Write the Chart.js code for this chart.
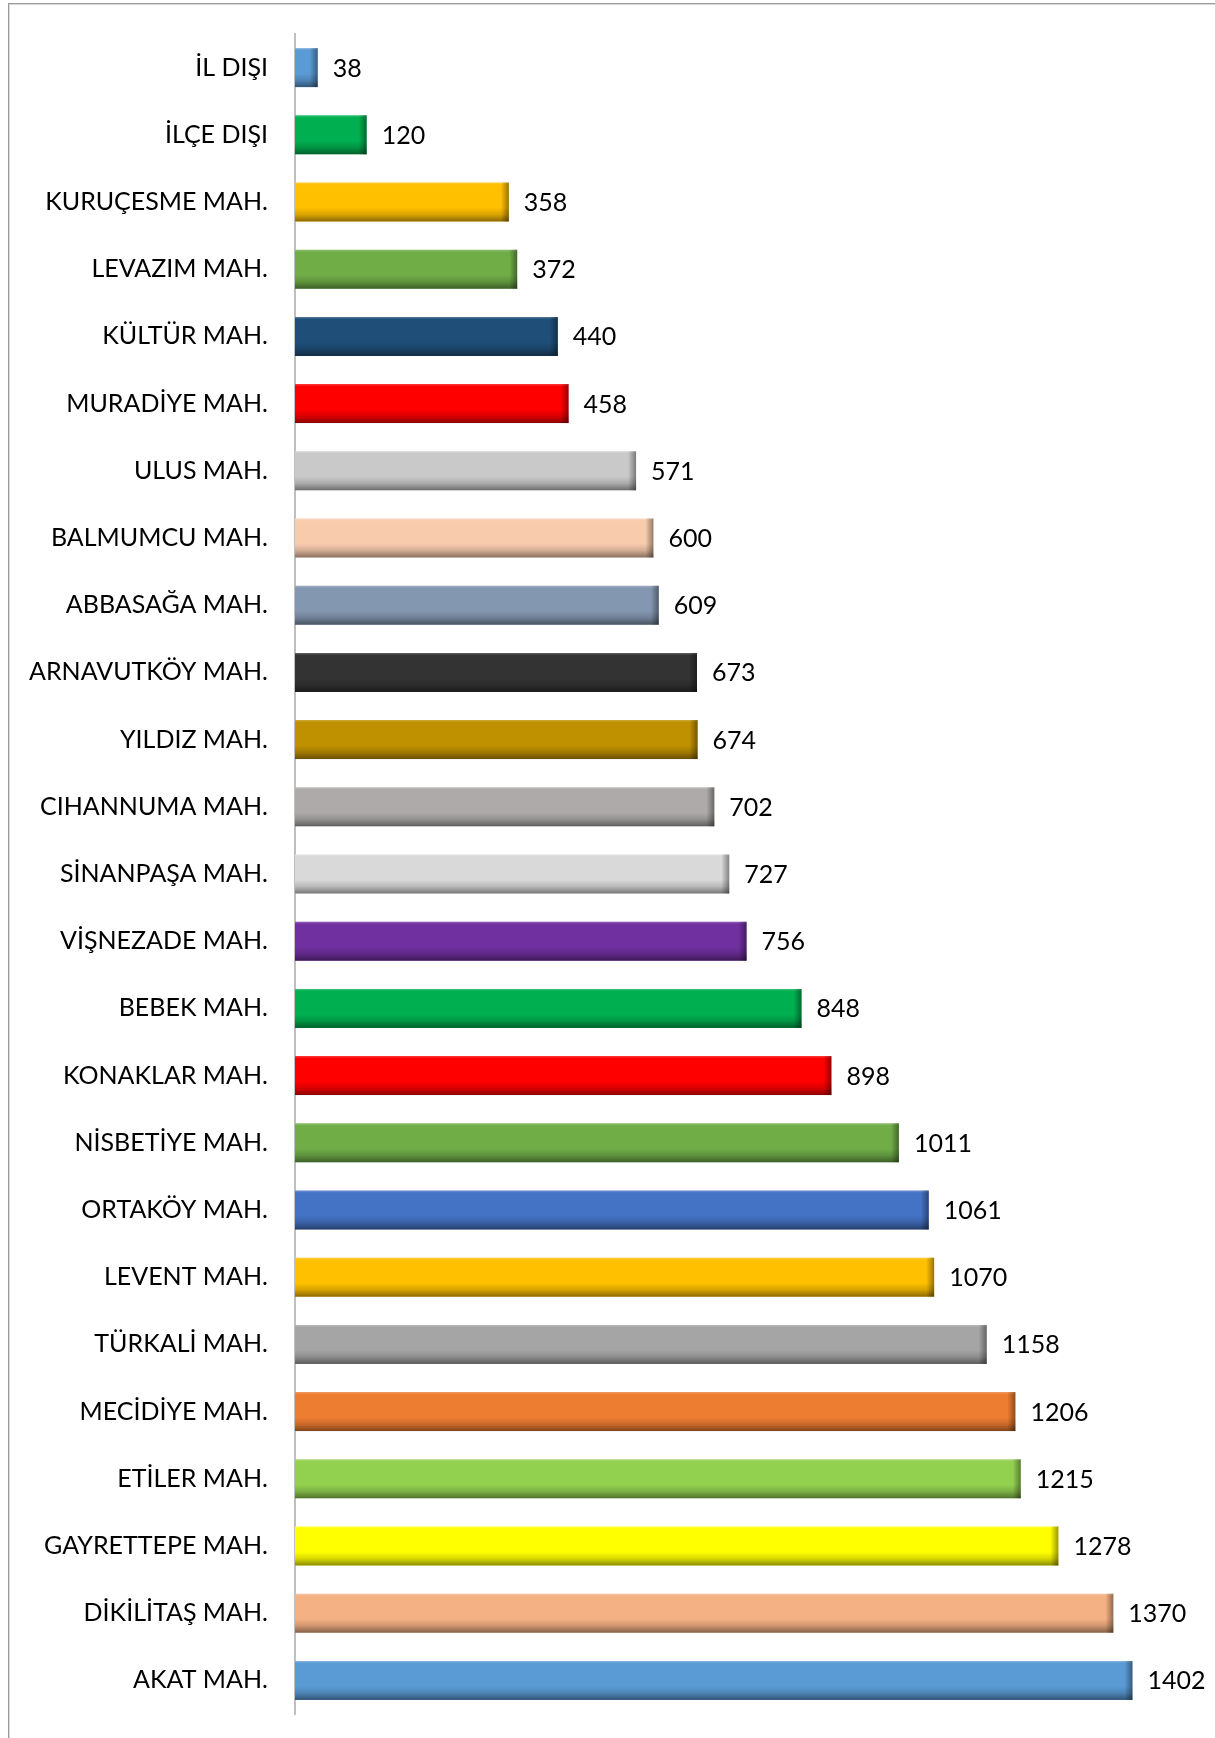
<!DOCTYPE html>
<html>
<head>
<meta charset="utf-8">
<script src="https://cdn.jsdelivr.net/npm/chart.js@4.4.1/dist/chart.umd.min.js"></script>
<style>
  html, body { margin: 0; padding: 0; background: #fff; overflow: hidden; }
  #frame {
    position: absolute; left: 8px; top: 3px; width: 1400px; height: 1900px;
    border-top: 1px solid #9a9a9a; border-left: 1px solid #9a9a9a;
    box-shadow: inset 1px 1px 0 #d9d9d9;
  }
  #wrap { position: absolute; left: 0; top: 0; width: 1215px; height: 1738px; }
</style>
</head>
<body>
<div id="frame"></div>
<div id="wrap"><canvas id="chart" width="1215" height="1738"></canvas></div>
<script>
// districts, top to bottom
const labels = [
  'İL DIŞI', 'İLÇE DIŞI', 'KURUÇESME MAH.', 'LEVAZIM MAH.', 'KÜLTÜR MAH.',
  'MURADİYE MAH.', 'ULUS MAH.', 'BALMUMCU MAH.', 'ABBASAĞA MAH.', 'ARNAVUTKÖY MAH.',
  'YILDIZ MAH.', 'CIHANNUMA MAH.', 'SİNANPAŞA MAH.', 'VİŞNEZADE MAH.', 'BEBEK MAH.',
  'KONAKLAR MAH.', 'NİSBETİYE MAH.', 'ORTAKÖY MAH.', 'LEVENT MAH.', 'TÜRKALİ MAH.',
  'MECİDİYE MAH.', 'ETİLER MAH.', 'GAYRETTEPE MAH.', 'DİKİLİTAŞ MAH.', 'AKAT MAH.'
];
const values = [
  38, 120, 358, 372, 440,
  458, 571, 600, 609, 673,
  674, 702, 727, 756, 848,
  898, 1011, 1061, 1070, 1158,
  1206, 1215, 1278, 1370, 1402
];
const barColors = [
  '#5B9BD5', '#00B050', '#FFC000', '#70AD47', '#1F4E79',
  '#FF0000', '#C9C9C9', '#F8CBAD', '#8497B0', '#333333',
  '#BF9000', '#AEAAAA', '#D9D9D9', '#7030A0', '#00B050',
  '#FF0000', '#70AD47', '#4472C4', '#FFC000', '#A5A5A5',
  '#ED7D31', '#92D050', '#FFFF00', '#F4B183', '#5B9BD5'
];

const FONT = { family: 'Lato, "Noto Sans", sans-serif', size: 25 };

// bevel shading over each bar, like the Excel 3D style
const bevel = {
  id: 'bevel',
  afterDatasetsDraw(chart) {
    const ctx = chart.ctx;
    chart.getDatasetMeta(0).data.forEach(bar => {
      const { x, y, base, height } = bar.getProps(['x', 'y', 'base', 'height'], true);
      const top = y - height / 2, bottom = y + height / 2;
      ctx.save();
      let g = ctx.createLinearGradient(0, top, 0, bottom);
      g.addColorStop(0, 'rgba(255,255,255,0.25)');
      g.addColorStop(0.06, 'rgba(255,255,255,0)');
      g.addColorStop(0.65, 'rgba(0,0,0,0)');
      g.addColorStop(0.82, 'rgba(0,0,0,0.15)');
      g.addColorStop(1, 'rgba(0,0,0,0.45)');
      ctx.fillStyle = g;
      ctx.fillRect(base, top, x - base, height);
      g = ctx.createLinearGradient(x - 8, 0, x, 0);
      g.addColorStop(0, 'rgba(0,0,0,0)');
      g.addColorStop(1, 'rgba(0,0,0,0.4)');
      ctx.fillStyle = g;
      ctx.fillRect(Math.max(base, x - 8), top, Math.min(8, x - base), height);
      ctx.restore();
    });
  }
};

// value labels at the end of each bar
const valueLabels = {
  id: 'valueLabels',
  afterDatasetsDraw(chart) {
    const ctx = chart.ctx;
    ctx.save();
    ctx.font = FONT.size + 'px ' + FONT.family;
    ctx.fillStyle = '#000';
    ctx.textAlign = 'left';
    ctx.textBaseline = 'middle';
    chart.getDatasetMeta(0).data.forEach((bar, i) => {
      ctx.fillText(String(values[i]), bar.x + 15, bar.y + 1);
    });
    ctx.restore();
  }
};

new Chart(document.getElementById('chart'), {
  type: 'bar',
  data: {
    labels: labels,
    datasets: [{
      data: values,
      backgroundColor: barColors,
      borderWidth: 0,
      barPercentage: 0.58,
      categoryPercentage: 1
    }]
  },
  options: {
    indexAxis: 'y',
    responsive: false,
    animation: false,
    layout: { padding: { left: 0, top: 34, right: 24, bottom: 24 } },
    plugins: { legend: { display: false }, tooltip: { enabled: false } },
    scales: {
      x: { display: false, min: 0, max: 1500 },
      y: {
        grid: { display: false, drawTicks: false },
        border: { display: true, color: '#bfbfbf', width: 2 },
        ticks: { color: '#000', font: FONT, padding: 27, autoSkip: false },
        afterFit(scale) {
          scale.width = 295;
          scale.paddingTop = 0;
          scale.paddingBottom = 0;
        }
      }
    }
  },
  plugins: [bevel, valueLabels]
});
</script>
</body>
</html>
